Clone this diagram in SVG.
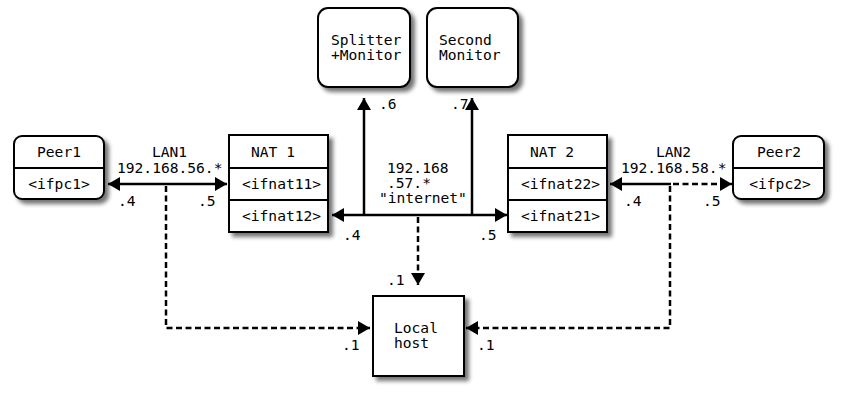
<svg xmlns="http://www.w3.org/2000/svg" width="847" height="416" viewBox="0 0 847 416">
<style>
.box{fill:#fff;stroke:#000;stroke-width:2;filter:url(#sh)}
.div{stroke:#000;stroke-width:2}
text{font-family:"DejaVu Sans Mono","Liberation Mono",monospace;font-size:14.6px;fill:#000}
.c{fill:none;stroke:#000;stroke-width:2.5}
.d{stroke-dasharray:6,3.5}
</style>
<defs>
<filter id="sh" x="-20%" y="-20%" width="150%" height="150%">
<feGaussianBlur in="SourceAlpha" stdDeviation="2.2"/>
<feOffset dx="4" dy="4" result="b"/>
<feComponentTransfer><feFuncA type="linear" slope="0.55"/></feComponentTransfer>
<feMerge><feMergeNode/><feMergeNode in="SourceGraphic"/></feMerge>
</filter>
<marker id="ah" viewBox="0 0 12 14" refX="12" refY="7" markerWidth="12" markerHeight="14" markerUnits="userSpaceOnUse" orient="auto-start-reverse">
<path d="M0,0 L12,7 L0,14 Z" fill="#000"/>
</marker>
</defs>

<g id="connectors">
<path class="c" d="M108,184 H227" marker-start="url(#ah)" marker-end="url(#ah)"/>
<path class="c d" d="M166,186 V328 H370" marker-end="url(#ah)"/>
<path class="c" d="M332,215 H507" marker-start="url(#ah)" marker-end="url(#ah)"/>
<path class="c" d="M364,215 V98" marker-end="url(#ah)"/>
<path class="c" d="M472,215 V98" marker-end="url(#ah)"/>
<path class="c d" d="M418,217 V285" marker-end="url(#ah)"/>
<path class="c" d="M671,184 H610" marker-end="url(#ah)"/>
<path class="c d" d="M673,184 H732" marker-end="url(#ah)"/>
<path class="c d" d="M670,186 V328 H466" marker-end="url(#ah)"/>
</g>

<g id="labels">
<text x="152" y="157">LAN1</text>
<text x="117" y="173">192.168.56.*</text>
<text x="118" y="206">.4</text>
<text x="198" y="206">.5</text>
<text x="387" y="173">192.168</text>
<text x="387" y="188">.57.*</text>
<text x="379" y="203">"internet"</text>
<text x="343" y="240">.4</text>
<text x="479" y="240">.5</text>
<text x="656" y="157">LAN2</text>
<text x="621" y="173">192.168.58.*</text>
<text x="624" y="206">.4</text>
<text x="703" y="206">.5</text>
<text x="379" y="109">.6</text>
<text x="451" y="109">.7</text>
<text x="387" y="285">.1</text>
<text x="342" y="350">.1</text>
<text x="477" y="350">.1</text>
</g>

<g id="peer1">
<rect class="box" x="14" y="136" width="90" height="63" rx="8"/>
<line class="div" x1="14" y1="168" x2="104" y2="168"/>
<text x="59" y="157" text-anchor="middle">Peer1</text>
<text x="59" y="189" text-anchor="middle">&lt;ifpc1&gt;</text>
</g>

<g id="nat1">
<rect class="box" x="229" y="135" width="99" height="97"/>
<line class="div" x1="229" y1="168" x2="328" y2="168"/>
<line class="div" x1="229" y1="200" x2="328" y2="200"/>
<text x="251" y="157">NAT 1</text>
<text x="242" y="189">&lt;ifnat11&gt;</text>
<text x="242" y="221">&lt;ifnat12&gt;</text>
</g>

<g id="nat2">
<rect class="box" x="508" y="135" width="99" height="97"/>
<line class="div" x1="508" y1="168" x2="607" y2="168"/>
<line class="div" x1="508" y1="200" x2="607" y2="200"/>
<text x="530" y="157">NAT 2</text>
<text x="521" y="189">&lt;ifnat22&gt;</text>
<text x="521" y="221">&lt;ifnat21&gt;</text>
</g>

<g id="peer2">
<rect class="box" x="733" y="136" width="91" height="63" rx="8"/>
<line class="div" x1="733" y1="168" x2="824" y2="168"/>
<text x="779" y="157" text-anchor="middle">Peer2</text>
<text x="780" y="189" text-anchor="middle">&lt;ifpc2&gt;</text>
</g>

<g id="splitter">
<rect class="box" x="318" y="8" width="92" height="79" rx="10"/>
<text x="331" y="45">Splitter</text>
<text x="331" y="60">+Monitor</text>
</g>

<g id="second">
<rect class="box" x="427" y="8" width="91" height="79" rx="10"/>
<text x="439" y="45">Second</text>
<text x="439" y="60">Monitor</text>
</g>

<g id="localhost">
<rect class="box" x="373" y="296" width="91" height="80"/>
<text x="394" y="333">Local</text>
<text x="394" y="348">host</text>
</g>
</svg>
